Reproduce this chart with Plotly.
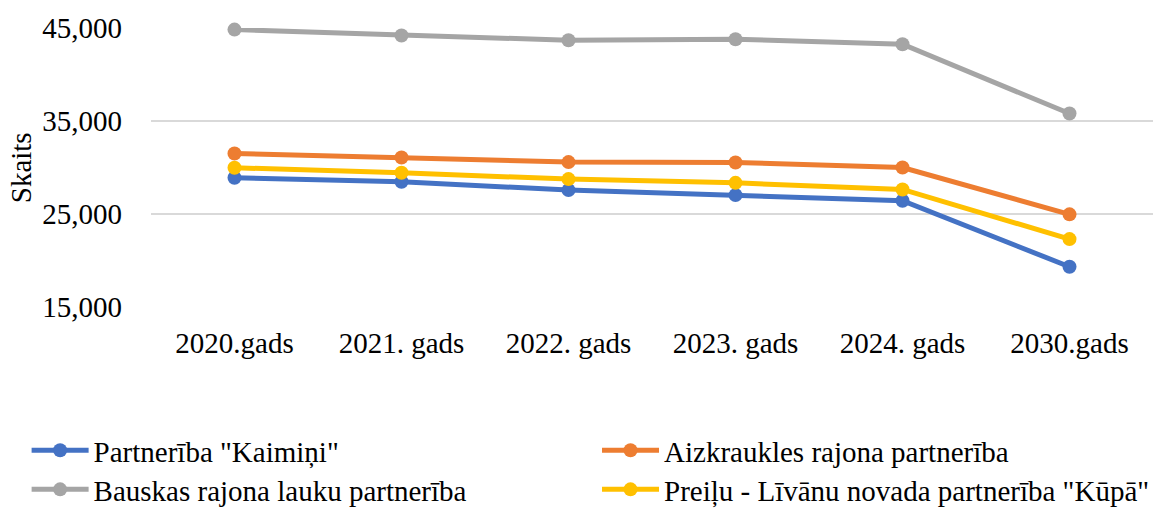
import plotly.graph_objects as go

categories = ["2020.gads", "2021. gads", "2022. gads", "2023. gads", "2024. gads", "2030.gads"]
kaimini = [28890, 28460, 27570, 27030, 26420, 19330]
aizkraukles = [31510, 31080, 30580, 30540, 30000, 24960]
bauskas = [44830, 44200, 43680, 43790, 43250, 35800]
preilu = [29970, 29430, 28750, 28350, 27640, 22300]
y_ticks = [15000, 25000, 35000, 45000]

series = [
    ('Partnerība "Kaimiņi"', kaimini, "#4472C4", "legend"),
    ("Aizkraukles rajona partnerība", aizkraukles, "#ED7D31", "legend2"),
    ("Bauskas rajona lauku partnerība", bauskas, "#A5A5A5", "legend3"),
    ('Preiļu - Līvānu novada partnerība "Kūpā"', preilu, "#FFC000", "legend4"),
]

fig = go.Figure()
for name, vals, color, lg in series:
    fig.add_trace(go.Scatter(
        x=categories, y=vals, name=name, mode="lines+markers",
        line=dict(color=color, width=5),
        marker=dict(color=color, size=14),
        cliponaxis=False, legend=lg,
    ))

font = dict(family="Liberation Serif", size=29, color="#000000")
leg_common = dict(
    orientation="v", xref="container", yref="container",
    xanchor="left", itemwidth=57, font=font,
    bgcolor="rgba(0,0,0,0)",
)
fig.update_layout(
    width=1157, height=515,
    margin=dict(l=151, r=4, t=28, b=208, autoexpand=False),
    paper_bgcolor="white", plot_bgcolor="white",
    font=font,
    showlegend=True,
    legend=dict(x=0.023, y=0.175, yanchor="top", **leg_common),
    legend2=dict(x=0.516, y=0.175, yanchor="top", **leg_common),
    legend3=dict(x=0.023, y=0.0, yanchor="bottom", **leg_common),
    legend4=dict(x=0.516, y=0.0, yanchor="bottom", **leg_common),
    xaxis=dict(
        type="category", range=[-0.5, 5.5], showgrid=False, showline=False,
        zeroline=False, ticks="outside", ticklen=10, tickcolor="white",
        tickfont=font, automargin=False,
    ),
    yaxis=dict(
        range=[15000, 45000], tickvals=y_ticks, tickformat=",",
        showgrid=True, gridcolor="#D9D9D9", gridwidth=2,
        showline=False, zeroline=False, ticks="", ticklabelstandoff=28,
        tickfont=font, automargin=False,
    ),
    annotations=[dict(
        text="Skaits", xref="paper", yref="paper", x=-0.13, y=0.5,
        xanchor="center", yanchor="middle", textangle=-90, showarrow=False,
        font=font,
    )],
)
fig.write_html("out.html", config={"displayModeBar": False},
               post_script="document.body.style.margin='0px';")
